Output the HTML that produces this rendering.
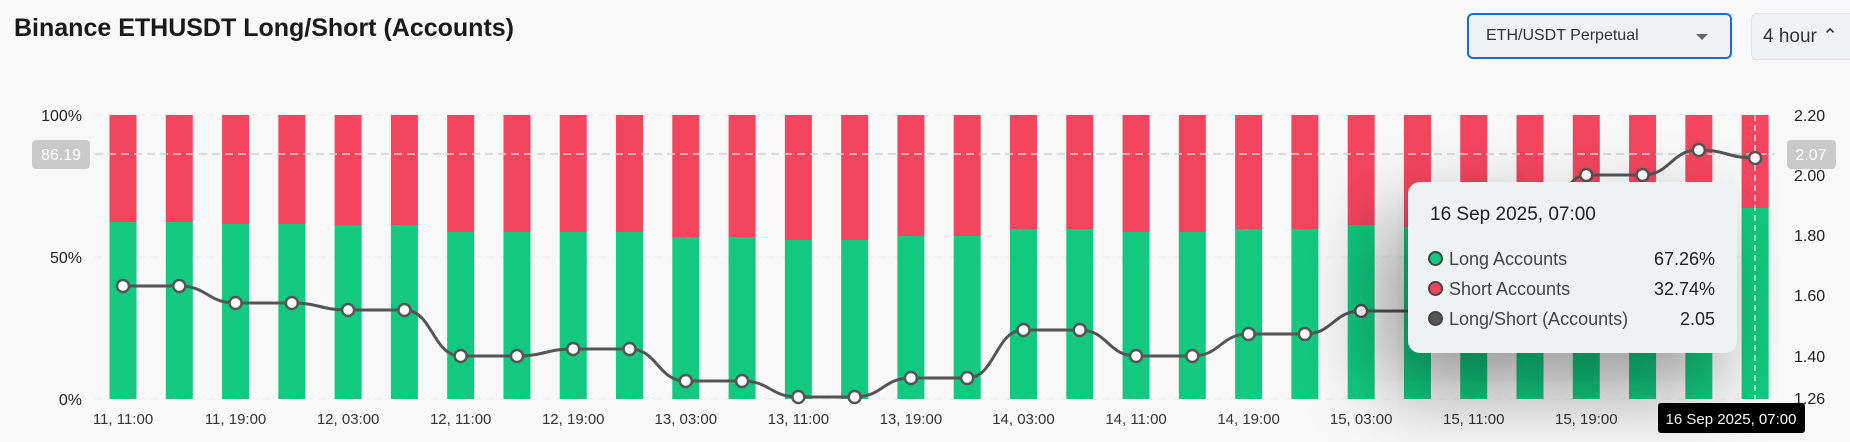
<!DOCTYPE html>
<html><head><meta charset="utf-8"><style>
body{margin:0;width:1850px;height:442px;background:#f8f8f8;font-family:"Liberation Sans",sans-serif;overflow:hidden;position:relative}
.title{position:absolute;left:14px;top:14px;font-size:25px;font-weight:bold;color:#1a1a1a}
.sel{position:absolute;left:1467px;top:13px;width:265px;height:46px;border:2px solid #1a6fcc;border-radius:6px;background:#eef2f4;box-sizing:border-box;font-size:16px;color:#333;line-height:42px;padding-left:17px}
.sel:after{content:"";position:absolute;right:22px;top:19px;border:6px solid transparent;border-top:6px solid #666}
.sel2{position:absolute;left:1751px;top:13px;width:110px;height:47px;border:1px solid #e0e3e5;border-radius:6px;background:#f0f2f3;box-sizing:border-box;font-size:19px;color:#333;line-height:45px;padding-left:11px}
.tip{position:absolute;left:1408px;top:182px;width:329px;height:171px;background:#eff2f3;border-radius:12px;box-shadow:-25px 35px 80px rgba(0,0,0,.4);box-sizing:border-box;color:#222}
.tip .h{position:absolute;left:22px;top:22px;font-size:19px}
.row{position:absolute;left:20px;right:22px;font-size:18px;color:#444}
.row b{font-weight:normal;color:#222;position:absolute;right:0}
.dot{display:inline-block;width:11px;height:11px;border-radius:50%;border:2px solid #444;margin-right:6px;vertical-align:-1px}
</style></head><body>
<div class="title">Binance ETHUSDT Long/Short (Accounts)</div>
<div class="sel">ETH/USDT Perpetual</div>
<div class="sel2">4 hour &#8963;</div>
<svg id="s" width="1850" height="442" style="position:absolute;left:0;top:0" font-family="Liberation Sans, sans-serif"></svg>
<div class="tip"><div class="h">16 Sep 2025, 07:00</div>
<div class="row" style="top:67px"><span class="dot" style="background:#12c97f"></span>Long Accounts<b>67.26%</b></div>
<div class="row" style="top:97px"><span class="dot" style="background:#f4455f"></span>Short Accounts<b>32.74%</b></div>
<div class="row" style="top:127px"><span class="dot" style="background:#555"></span>Long/Short (Accounts)<b>2.05</b></div>
</div>
<script>
var g=[222,222,224,224,225,225,232,232,232,232,237,237,240,240,236,236,229,229,232,232,229,229,225,227,226,226,225,225,225,208];
var l=[286,286,303,303,310,310,356,356,349,349,381,381,397,397,378,378,330,330,356,356,334,334,311,311,311,240,175,175,150,158];
var s='';
[115,257,399].forEach(function(y){s+='<line x1="95" x2="1775" y1="'+y+'" y2="'+y+'" stroke="#ebebeb" stroke-dasharray="8,6"/>'});
for(var i=0;i<30;i++){var c=123+i*56.28;
s+='<rect x="'+(c-13.5)+'" y="115" width="27" height="'+(g[i]-115)+'" fill="#f4455f"/>';
s+='<rect x="'+(c-13.5)+'" y="'+g[i]+'" width="27" height="'+(399-g[i])+'" fill="#12c97f"/>';}
s+='<line x1="95" x2="1775" y1="154" y2="154" stroke="#cfcfcf" stroke-width="1.5" stroke-dasharray="8,5"/>';
s+='<line x1="1755" x2="1755" y1="115" y2="399" stroke="#fff" stroke-width="1.2" stroke-dasharray="6,4"/>';
var p='M123,'+l[0];
for(var i=1;i<30;i++){var x0=123+(i-1)*56.28,x1=123+i*56.28,m=(x0+x1)/2;p+=' C'+m+','+l[i-1]+' '+m+','+l[i]+' '+x1+','+l[i];}
s+='<path d="'+p+'" fill="none" stroke="#555" stroke-width="3"/>';
for(var i=0;i<30;i++)s+='<circle cx="'+(123+i*56.28)+'" cy="'+l[i]+'" r="6" fill="#fff" stroke="#555" stroke-width="2.5"/>';
[['100%',115],['50%',257],['0%',399]].forEach(function(a){s+='<text x="82" y="'+(a[1]+6)+'" text-anchor="end" font-size="16" fill="#222">'+a[0]+'</text>'});
[['2.20',115],['2.00',175],['1.80',235],['1.60',295],['1.40',356],['1.26',398]].forEach(function(a){s+='<text x="1794" y="'+(a[1]+6)+'" font-size="16" fill="#222">'+a[0]+'</text>'});
s+='<rect x="32" y="140" width="58" height="29" rx="4" fill="#cacaca"/><text x="61" y="160" text-anchor="middle" font-size="16" fill="#fff">86.19</text>';
s+='<rect x="1787" y="140" width="49" height="29" rx="4" fill="#cacaca"/><text x="1811" y="160" text-anchor="middle" font-size="16" fill="#fff">2.07</text>';
var lb=['11, 11:00','11, 19:00','12, 03:00','12, 11:00','12, 19:00','13, 03:00','13, 11:00','13, 19:00','14, 03:00','14, 11:00','14, 19:00','15, 03:00','15, 11:00','15, 19:00','16, 03:00'];
lb.forEach(function(t,k){s+='<text x="'+(123+k*2*56.28)+'" y="424" text-anchor="middle" font-size="15" fill="#333">'+t+'</text>'});
s+='<rect x="1658" y="403" width="147" height="30" rx="3" fill="#000"/><text x="1731" y="424" text-anchor="middle" font-size="15" fill="#fff">16 Sep 2025, 07:00</text>';
document.getElementById('s').innerHTML=s;
</script>
</body></html>
